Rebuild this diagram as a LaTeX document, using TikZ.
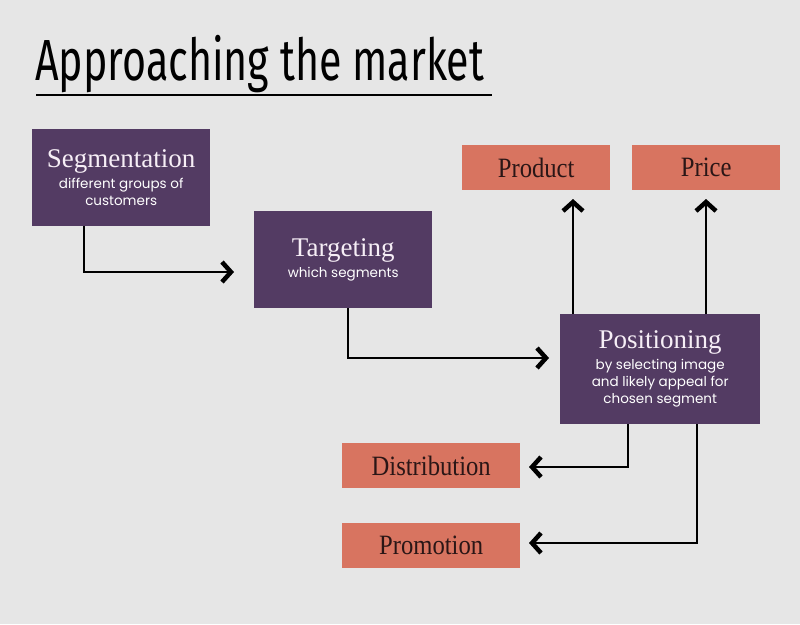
\documentclass[tikz,border=0pt]{standalone}
\usepackage{fontspec}
\usetikzlibrary{arrows.meta,calc}
\newfontfamily\titlefont[FakeStretch=0.71]{Fira Sans}
\newfontfamily\headfont{Liberation Serif}
\newfontfamily\boxfont[FakeStretch=0.88]{Liberation Serif}
\newfontfamily\subfont{Poppins}
\definecolor{bg}{HTML}{E6E6E6}
\definecolor{purp}{HTML}{533B63}
\definecolor{coral}{HTML}{D87460}
\definecolor{boxtext}{HTML}{2A1616}
\definecolor{headtext}{HTML}{F6EEF6}
\begin{document}
\begin{tikzpicture}[x=1pt,y=-1pt,
  pbox/.style={fill=purp, anchor=north west, inner sep=0pt, align=center, text=white,
               font=\subfont\fontsize{13.5}{17}\selectfont},
  obox/.style={fill=coral, anchor=north west, minimum width=148pt, minimum height=45pt, inner sep=0pt,
               font=\boxfont\fontsize{28}{30}\selectfont, text=boxtext},
  conn/.style={line width=2pt, -{Straight Barb[length=9pt,width=20pt,line width=4.5pt]}}]
\fill[bg] (0,0) rectangle (800,624);
\useasboundingbox (0,0) rectangle (800,624);
% title
\node[anchor=base west, inner sep=0pt, font=\titlefont\fontsize{58}{58}\selectfont] (title) at (35,80) {Approaching the market};
\draw[line width=2pt] (36,95) -- (492,95);
% boxes
\node[pbox, minimum width=178pt, minimum height=97pt] (seg) at (32,129)
  {{\headfont\color{headtext}\fontsize{27}{27}\selectfont Segmentation}\\[4pt]
   different groups of\\
   customers};
\node[pbox, minimum width=178pt, minimum height=97pt] (targ) at (254,211)
  {{\headfont\color{headtext}\fontsize{27}{27}\selectfont Targeting}\\[4pt]
   which segments};
\node[pbox, minimum width=200pt, minimum height=110pt] (pos) at (560,314)
  {{\headfont\color{headtext}\fontsize{27}{27}\selectfont Positioning}\\[4pt]
   by selecting image\\
   and likely appeal for\\
   chosen segment};
\node[obox] (prod) at (462,145) {Product};
\node[obox] (price) at (632,145) {Price};
\node[obox, minimum width=178pt] (dist) at (342,443) {Distribution};
\node[obox, minimum width=178pt] (prom) at (342,523) {Promotion};
% arrow tips
\coordinate (t1) at (234,272);
\coordinate (t2) at (549,358);
\coordinate (t3) at (573,199);
\coordinate (t4) at (706,199);
\coordinate (t5) at (529,467);
\coordinate (t6) at (529,543);
% connectors
\draw[conn] ([xshift=52pt]seg.south west) |- (t1);
\draw[conn] ([xshift=94pt]targ.south west) |- (t2);
\draw[conn] ([xshift=13pt]pos.north west) -- (t3);
\draw[conn] ([xshift=146pt]pos.north west) -- (t4);
\draw[conn] ([xshift=68pt]pos.south west) |- (t5);
\draw[conn] ([xshift=137pt]pos.south west) |- (t6);
\end{tikzpicture}
\end{document}
